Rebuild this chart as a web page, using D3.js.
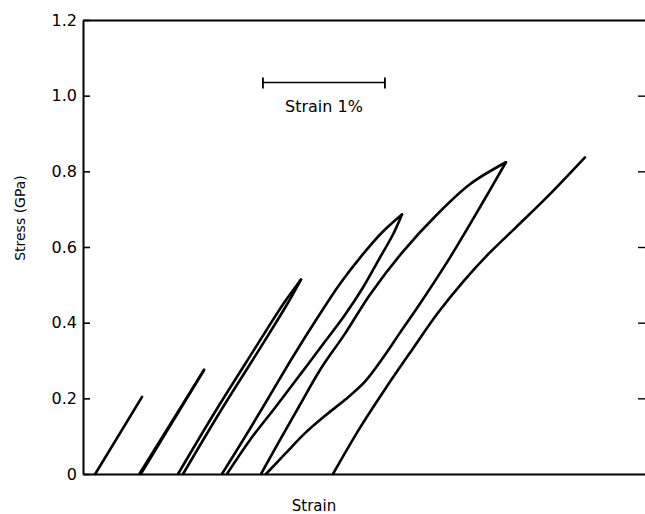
<!DOCTYPE html>
<html>
<head>
<meta charset="utf-8">
<script src="https://cdn.jsdelivr.net/npm/d3@7"></script>
<style>
  html, body { margin: 0; padding: 0; background: #fff; }
  svg { display: block; }
  text { font-family: "DejaVu Sans", sans-serif; fill: #000; }
</style>
</head>
<body>
<div id="chart"></div>
<script>
// ---------- DATA (strain in %, stress in GPa) ----------
const yTicks = [0, 0.2, 0.4, 0.6, 0.8, 1.0, 1.2];
const yTickLabels = ["0", "0.2", "0.4", "0.6", "0.8", "1.0", "1.2"];
const rightTicks = [0.2, 0.4, 0.6, 0.8, 1.0];

const cycle1Load = [[0.10, 0], [0.484, 0.204]];

const cycle2Load = [[0.462, 0], [0.992, 0.275]];
const cycle2Unload = [[0.992, 0.275], [0.474, 0]];

const cycle3Load = [[0.779, 0], [1.082, 0.164], [1.402, 0.328], [1.639, 0.448], [1.787, 0.514]];
const cycle3Unload = [[1.787, 0.514], [1.672, 0.448], [1.443, 0.328], [1.123, 0.164], [0.820, 0]];

const cycle4Load = [[1.139, 0], [1.328, 0.098], [1.516, 0.199], [1.721, 0.310], [1.918, 0.411],
                    [2.107, 0.503], [2.287, 0.578], [2.459, 0.641], [2.615, 0.686]];
const cycle4Unload = [[2.615, 0.686], [2.541, 0.633], [2.434, 0.572], [2.295, 0.493], [2.148, 0.421],
                      [1.984, 0.350], [1.779, 0.262], [1.574, 0.175], [1.369, 0.090], [1.180, 0]];

const cycle5Load = [[1.459, 0], [1.615, 0.090], [1.779, 0.183], [1.943, 0.275], [2.148, 0.371],
                    [2.352, 0.474], [2.623, 0.588], [2.902, 0.686], [3.172, 0.766], [3.467, 0.824]];
const cycle5Unload = [[3.467, 0.824], [3.254, 0.705], [3.008, 0.572], [2.762, 0.450], [2.598, 0.373],
                      [2.459, 0.307], [2.311, 0.244], [2.148, 0.196], [1.984, 0.154], [1.820, 0.108],
                      [1.656, 0.053], [1.500, 0]];

const finalLoad = [[2.049, 0], [2.270, 0.122], [2.484, 0.228], [2.697, 0.328], [2.910, 0.426],
                   [3.115, 0.508], [3.328, 0.583], [3.549, 0.652], [3.795, 0.729], [4.115, 0.837]];

const curves = [cycle1Load, cycle2Load, cycle2Unload, cycle3Load, cycle3Unload,
                cycle4Load, cycle4Unload, cycle5Load, cycle5Unload, finalLoad];

const scaleBarStrain = [1.475, 2.475];   // 1 % strain
const scaleBarStress = 1.035;
const scaleBarLabel = "Strain 1%";
const xLabel = "Strain";
const yLabel = "Stress (GPa)";

// ---------- LAYOUT ----------
const W = 645, H = 514;
const margin = { top: 20, right: 0, bottom: 40, left: 83 };
const svg = d3.select("#chart").append("svg").attr("width", W).attr("height", H);

const x = d3.scaleLinear().domain([0, 4.607]).range([margin.left, W - margin.right]);
const y = d3.scaleLinear().domain([0, 1.2]).range([H - margin.bottom, margin.top]);

// left axis (inward ticks)
const leftAxis = d3.axisLeft(y)
  .tickValues(yTicks)
  .tickFormat((d, i) => yTickLabels[i])
  .tickSizeInner(-7).tickSizeOuter(0).tickPadding(6);
const gl = svg.append("g").attr("transform", `translate(${margin.left},0)`).call(leftAxis);
gl.select(".domain").attr("stroke", "#000").attr("stroke-width", 2);
gl.selectAll(".tick line").attr("stroke", "#000").attr("stroke-width", 1.6);
gl.selectAll(".tick text").attr("font-size", 16).attr("font-family", "DejaVu Sans").attr("fill", "#000");

// right ticks (no line)
const rightAxis = d3.axisLeft(y).tickValues(rightTicks).tickSize(7).tickFormat("");
const gr = svg.append("g").attr("transform", `translate(${W},0)`).call(rightAxis);
gr.select(".domain").remove();
gr.selectAll(".tick line").attr("stroke", "#000").attr("stroke-width", 1.4);

// bottom axis line
const bottomAxis = d3.axisBottom(x).tickValues([]).tickSizeOuter(0);
const gb = svg.append("g").attr("transform", `translate(0,${y(0)})`).call(bottomAxis);
gb.select(".domain").attr("stroke", "#000").attr("stroke-width", 2);

// top frame line
const topAxis = d3.axisTop(x).tickValues([]).tickSizeOuter(0);
const gt = svg.append("g").attr("transform", `translate(0,${y(1.2)})`).call(topAxis);
gt.select(".domain").attr("stroke", "#000").attr("stroke-width", 2);

// curves
const line = d3.line().x(d => x(d[0])).y(d => y(d[1])).curve(d3.curveCatmullRom.alpha(0.5));
svg.append("g").selectAll("path").data(curves).join("path")
  .attr("d", line)
  .attr("fill", "none")
  .attr("stroke", "#000")
  .attr("stroke-width", 2.6)
  .attr("stroke-linejoin", "round")
  .attr("stroke-linecap", "round");

// scale bar
const sb = svg.append("g");
sb.append("line")
  .attr("x1", x(scaleBarStrain[0])).attr("x2", x(scaleBarStrain[1]))
  .attr("y1", y(scaleBarStress)).attr("y2", y(scaleBarStress))
  .attr("stroke", "#000").attr("stroke-width", 1.6);
sb.selectAll("line.cap").data(scaleBarStrain).join("line").attr("class", "cap")
  .attr("x1", d => x(d)).attr("x2", d => x(d))
  .attr("y1", y(scaleBarStress) - 5).attr("y2", y(scaleBarStress) + 6)
  .attr("stroke", "#000").attr("stroke-width", 1.8);
sb.append("text")
  .attr("x", x(d3.mean(scaleBarStrain)))
  .attr("y", y(scaleBarStress) + 30)
  .attr("text-anchor", "middle")
  .attr("font-size", 16)
  .text(scaleBarLabel);

// axis titles
svg.append("text")
  .attr("x", 314).attr("y", 511)
  .attr("text-anchor", "middle").attr("font-size", 15)
  .text(xLabel);
svg.append("text")
  .attr("transform", "translate(25,218) rotate(-90)")
  .attr("text-anchor", "middle").attr("font-size", 14)
  .text(yLabel);
</script>
</body>
</html>
